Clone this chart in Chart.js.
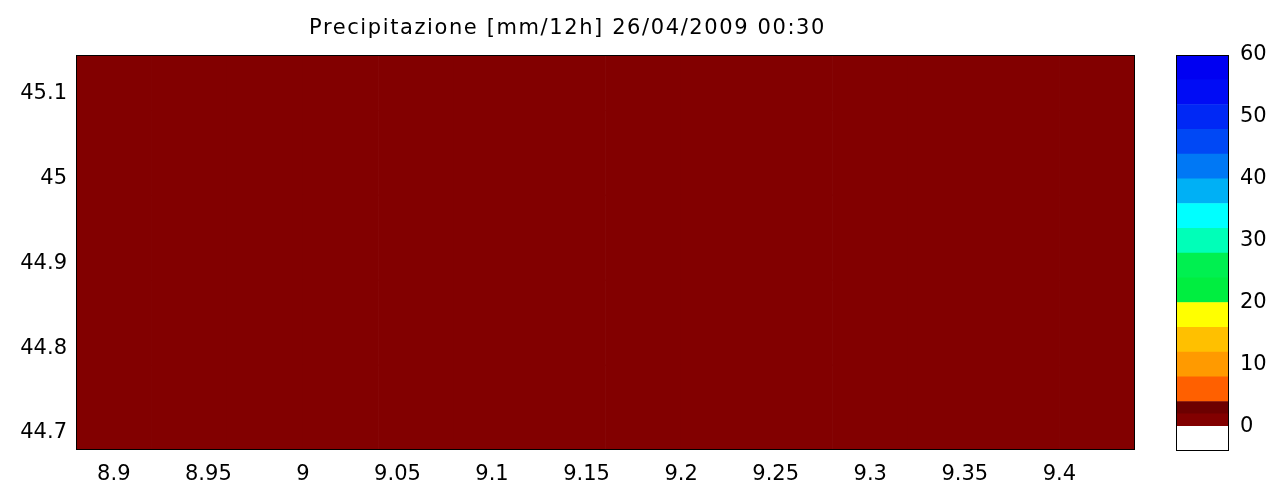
<!DOCTYPE html>
<html>
<head>
<meta charset="utf-8">
<script src="https://cdn.jsdelivr.net/npm/chart.js@4/dist/chart.umd.min.js"></script>
<style>
  body { margin: 0; background: #fff; }
  #wrap { position: relative; width: 1269px; height: 485px; }
  canvas { position: absolute; top: 0; }
  #map { left: 0; }
  #cbar { left: 1160px; }
</style>
</head>
<body>
<div id="wrap">
  <canvas id="map" width="1210" height="485"></canvas>
  <canvas id="cbar" width="109" height="485"></canvas>
</div>
<script>
var titleText = 'Precipitazione [mm/12h] 26/04/2009 00:30';

// grid cell centres (longitude) and row edges (latitude)
var lonCenters = [8.90, 8.94, 8.98, 9.02, 9.06, 9.10, 9.14, 9.18, 9.22, 9.26, 9.30, 9.34, 9.38, 9.42];
var latEdges = [44.68, 44.78, 44.88, 44.98, 45.08, 45.145];

// precipitation per cell, one row per latitude band (south to north)
var precipRows = [
    [0, 0, 0, 0, 0, 0, 0, 0, 0, 0, 0, 0, 0, 0],
    [0, 0, 0, 0, 0, 0, 0, 0, 0, 0, 0, 0, 0, 0],
    [0, 0, 0, 0, 0, 0, 0, 0, 0, 0, 0, 0, 0, 0],
    [0, 0, 0, 0, 0, 0, 0, 0, 0, 0, 0, 0, 0, 0],
    [0, 0, 0, 0, 0, 0, 0, 0, 0, 0, 0, 0, 0, 0]
];

var xTickVals = [8.9, 8.95, 9, 9.05, 9.1, 9.15, 9.2, 9.25, 9.3, 9.35, 9.4];
var yTickVals = [44.7, 44.8, 44.9, 45, 45.1];

// colour classes of the colorbar
var levels = [-4, 0, 2, 4, 8, 12, 16, 20, 24, 28, 32, 36, 40, 44, 48, 52, 56, 60];
var levelColors = ['#ffffff', '#820000', '#6c0000', '#ff6000', '#ff9a00', '#ffc000', '#ffff00',
    '#00ee40', '#00f050', '#00ffb8', '#00ffff', '#00b0f5', '#0078f5', '#0048f5', '#0028f5', '#000cf5', '#0000f2'];
var cbarTicks = [0, 10, 20, 30, 40, 50, 60];

var tickFont = { family: 'DejaVu Sans', size: 21 };

function colorFor(v) {
    for (var i = 0; i < levels.length - 1; i++) {
        if (v >= levels[i] && v < levels[i + 1]) return levelColors[i];
    }
    return levelColors[levelColors.length - 1];
}

var frame = {
    id: 'frame',
    afterDraw: function (c) {
        var a = c.chartArea, ctx = c.ctx;
        ctx.save();
        ctx.strokeStyle = '#000';
        ctx.lineWidth = 1;
        ctx.strokeRect(Math.round(a.left) + 0.5, Math.round(a.top) + 0.5,
            Math.round(a.right - a.left) - 1, Math.round(a.bottom - a.top) - 1);
        ctx.restore();
    }
};

var mapSets = precipRows.map(function (row, r) {
    return {
        data: lonCenters.map(function (x) { return { x: x, y: [latEdges[r], latEdges[r + 1]] }; }),
        backgroundColor: row.map(colorFor),
        borderWidth: 0,
        grouped: false,
        barPercentage: 1,
        categoryPercentage: 1
    };
});

var map = new Chart(document.getElementById('map'), {
    type: 'bar',
    data: { datasets: mapSets },
    options: {
        responsive: false,
        animation: false,
        layout: { padding: { left: 0, right: 75, top: 0, bottom: 0 } },
        plugins: {
            legend: { display: false },
            tooltip: { enabled: false },
            title: {
                display: true,
                text: titleText,
                color: '#000',
                font: { family: 'DejaVu Sans', size: 21, weight: 'normal' },
                padding: { top: 16, bottom: 13.8 }
            }
        },
        scales: {
            x: {
                type: 'linear',
                min: 8.88,
                max: 9.44,
                offset: false,
                grid: { display: false, drawTicks: false, offset: false },
                border: { display: false },
                afterBuildTicks: function (s) { s.ticks = xTickVals.map(function (v) { return { value: v }; }); },
                afterFit: function (s) { s.height = 35; },
                ticks: { color: '#000', font: tickFont, padding: 12, maxRotation: 0,
                    callback: function (v) { return String(v); } }
            },
            y: {
                type: 'linear',
                min: 44.68,
                max: 45.145,
                beginAtZero: false,
                grid: { display: false, drawTicks: false },
                border: { display: false },
                afterBuildTicks: function (s) { s.ticks = yTickVals.map(function (v) { return { value: v }; }); },
                afterFit: function (s) { s.width = 76; },
                ticks: { color: '#000', font: tickFont, padding: 9,
                    callback: function (v) { return String(v); } }
            }
        }
    },
    plugins: [frame]
});

// a little extra letter spacing on the title (old matlab bitmap font look)
var titleDraw = map.titleBlock.draw;
map.titleBlock.draw = function () {
    var ctx = map.ctx;
    ctx.save();
    ctx.letterSpacing = '1.6px';
    titleDraw.apply(this, arguments);
    ctx.restore();
};
map.update('none');

var cbarSets = levelColors.map(function (col, i) {
    return {
        data: [[levels[i], levels[i + 1]]],
        backgroundColor: col,
        borderWidth: 0,
        grouped: false,
        barPercentage: 1,
        categoryPercentage: 1
    };
});

new Chart(document.getElementById('cbar'), {
    type: 'bar',
    data: { labels: [''], datasets: cbarSets },
    options: {
        responsive: false,
        animation: false,
        layout: { padding: { left: 16, right: 0, top: 55, bottom: 34 } },
        plugins: { legend: { display: false }, tooltip: { enabled: false } },
        scales: {
            x: { display: false },
            y: {
                position: 'right',
                min: -4,
                max: 60,
                beginAtZero: false,
                grid: { display: false, drawTicks: false },
                border: { display: false },
                afterBuildTicks: function (s) { s.ticks = cbarTicks.map(function (v) { return { value: v }; }); },
                afterFit: function (s) { s.width = 40; },
                ticks: { color: '#000', font: tickFont, padding: 11 }
            }
        }
    },
    plugins: [frame]
});
</script>
</body>
</html>
